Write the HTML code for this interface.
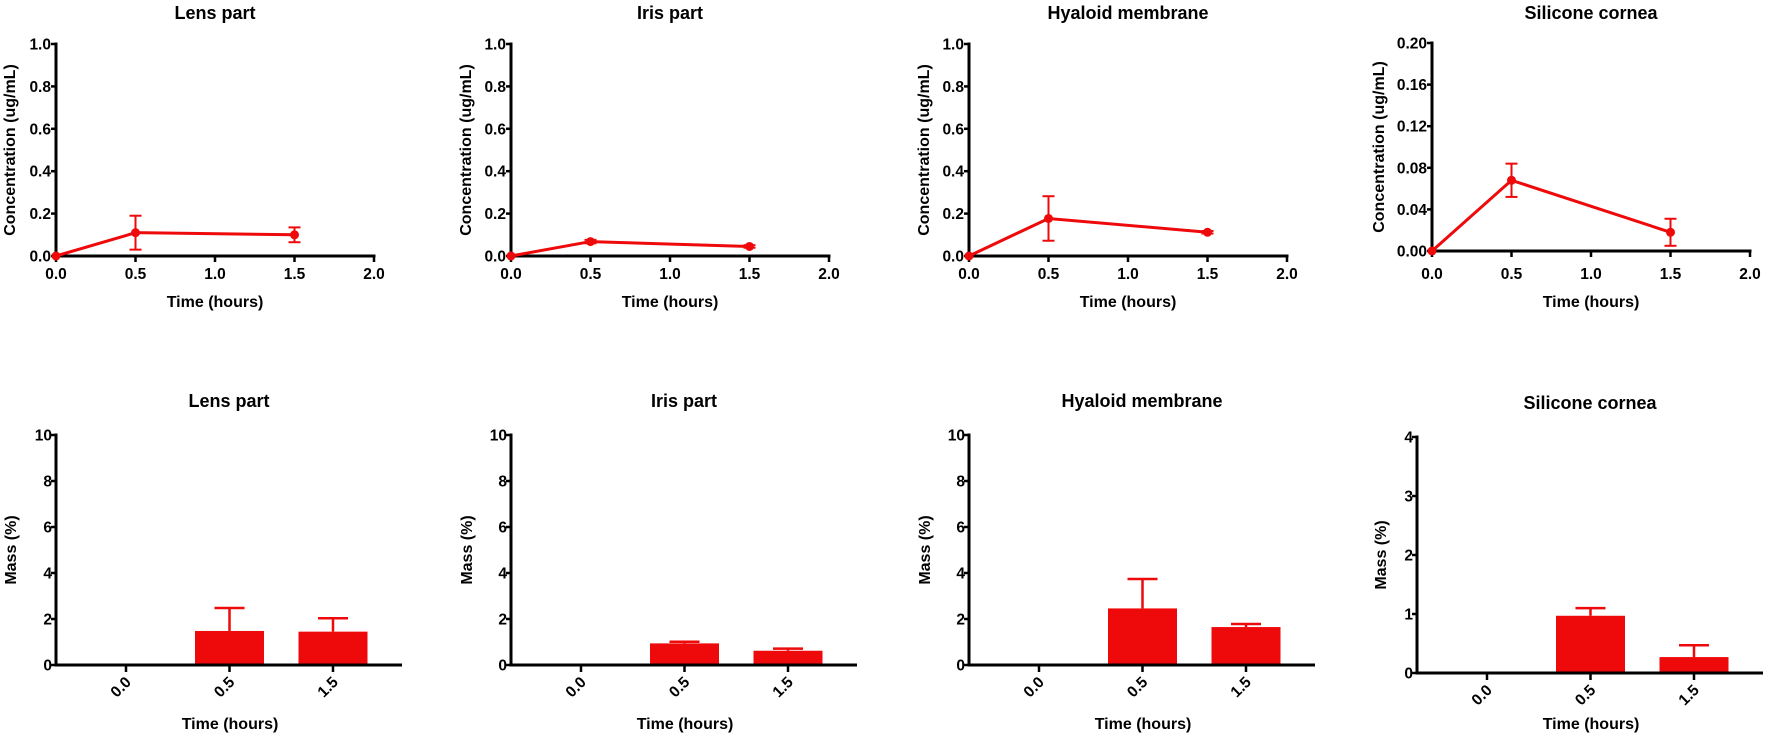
<!DOCTYPE html>
<html><head><meta charset="utf-8"><style>
html,body{margin:0;padding:0;background:#fff;}
svg{display:block;font-family:"Liberation Sans",Arial,sans-serif;font-weight:bold;}
</style></head><body>
<svg id="chart" width="1772" height="744" viewBox="0 0 1772 744" xmlns="http://www.w3.org/2000/svg"></svg>
<script>
// ---- data ----
const panelTitles = ["Lens part","Iris part","Hyaloid membrane","Silicone cornea"];
const lineTimes = [0, 0.5, 1.5];
const lensConc = [0, 0.11, 0.10];
const lensConcErr = [0, 0.08, 0.035];
const irisConc = [0, 0.068, 0.045];
const irisConcErr = [0, 0.008, 0.006];
const hyaloidConc = [0, 0.177, 0.112];
const hyaloidConcErr = [0, 0.105, 0.006];
const siliconeConc = [0, 0.068, 0.018];
const siliconeConcErr = [0, 0.016, 0.013];
const concTicks1 = ["0.0","0.2","0.4","0.6","0.8","1.0"];
const concTicks2 = ["0.00","0.04","0.08","0.12","0.16","0.20"];
const timeTicks = ["0.0","0.5","1.0","1.5","2.0"];
const barCategories = ["0.0","0.5","1.5"];
const lensMass = [0, 1.48, 1.45];
const lensMassErr = [0, 1.0, 0.58];
const irisMass = [0, 0.94, 0.62];
const irisMassErr = [0, 0.07, 0.09];
const hyaloidMass = [0, 2.46, 1.65];
const hyaloidMassErr = [0, 1.28, 0.13];
const siliconeMass = [0, 0.97, 0.27];
const siliconeMassErr = [0, 0.13, 0.2];
const massTicks1 = ["0","2","4","6","8","10"];
const massTicks2 = ["0","1","2","3","4"];

const svg = document.getElementById('chart');
const NS = 'http://www.w3.org/2000/svg';
function mk(tag, attrs, parent, text){
  const e = document.createElementNS(NS, tag);
  for (const k in attrs) e.setAttribute(k, attrs[k]);
  if (text !== undefined) e.textContent = text;
  (parent || svg).appendChild(e);
  return e;
}
const RED = '#ee0a0a';

const topPanels = [
  {ax:56, y0:256, y1:44, ticks:concTicks1, vals:lensConc, errs:lensConcErr, lab:47, key:'lens'},
  {ax:511, y0:256, y1:44, ticks:concTicks1, vals:irisConc, errs:irisConcErr, lab:46, key:'iris'},
  {ax:969, y0:256, y1:44, ticks:concTicks1, vals:hyaloidConc, errs:hyaloidConcErr, lab:46, key:'hyaloid'},
  {ax:1432, y0:251, y1:43, ticks:concTicks2, vals:siliconeConc, errs:siliconeConcErr, lab:54, key:'silicone'}
];
topPanels.forEach((p, i) => {
  const g = mk('g', {});
  
  
  const W = 318;
  const ymax = parseFloat(p.ticks[p.ticks.length-1]);
  const xs = t => p.ax + t / 2.0 * W;
  const ys = v => p.y0 - v / ymax * (p.y0 - p.y1);
  const t = mk('text', {x:p.ax + W/2, y:19, 'text-anchor':'middle', 'font-size':18}, g, panelTitles[i]);
  
  
  mk('line', {x1:p.ax, y1:p.y0+1.5, x2:p.ax, y2:p.y1-1.5, stroke:'#000','stroke-width':3}, g);
  mk('line', {x1:p.ax-1.5, y1:p.y0, x2:p.ax+W+1.5, y2:p.y0, stroke:'#000','stroke-width':3}, g);
  p.ticks.forEach(tk => {
    const y = ys(parseFloat(tk));
    mk('line', {x1:p.ax-5, y1:y, x2:p.ax, y2:y, stroke:'#000','stroke-width':2.5}, g);
    const l = mk('text', {x:p.ax-5, y:y+5.5, 'text-anchor':'end', 'font-size':15.5}, g, tk);
    
    
  });
  timeTicks.forEach(tk => {
    const x = xs(parseFloat(tk));
    mk('line', {x1:x, y1:p.y0, x2:x, y2:p.y0+6, stroke:'#000','stroke-width':2.5}, g);
    const l = mk('text', {x:x, y:279, 'text-anchor':'middle', 'font-size':15.5}, g, tk);
    
    
  });
  const xt = mk('text', {x:p.ax + W/2, y:307, 'text-anchor':'middle', 'font-size':16}, g, 'Time (hours)');
  
  
  const yc = (p.y0 + p.y1)/2;
  const yt = mk('text', {x:0, y:0, 'text-anchor':'middle', 'font-size':16, transform:`translate(${p.ax-p.lab+6},${yc}) rotate(-90)`}, g, 'Concentration (ug/mL)');
  
  
  const pts = lineTimes.map((tm, j) => xs(tm) + ',' + ys(p.vals[j])).join(' ');
  const pl = mk('polyline', {points:pts, fill:'none', stroke:RED, 'stroke-width':3}, g);
  
  
  lineTimes.forEach((tm, j) => {
    const x = xs(tm), v = p.vals[j], e = p.errs[j];
    if (e > 0) {
      const a = ys(v+e), b = ys(v-e);
      mk('line', {x1:x, y1:a, x2:x, y2:b, stroke:RED, 'stroke-width':2}, g);
      mk('line', {x1:x-6, y1:a, x2:x+6, y2:a, stroke:RED, 'stroke-width':2}, g);
      mk('line', {x1:x-6, y1:b, x2:x+6, y2:b, stroke:RED, 'stroke-width':2}, g);
    }
    const c = mk('circle', {cx:x, cy:ys(v), r:4.5, fill:RED}, g);
    
    
  });
});

const botPanels = [
  {ax:56, y0:665, y1:435, ticks:massTicks1, vals:lensMass, errs:lensMassErr, lab:46, key:'lens'},
  {ax:511, y0:665, y1:435, ticks:massTicks1, vals:irisMass, errs:irisMassErr, lab:45, key:'iris'},
  {ax:969, y0:665, y1:435, ticks:massTicks1, vals:hyaloidMass, errs:hyaloidMassErr, lab:45, key:'hyaloid'},
  {ax:1417, y0:673, y1:437, ticks:massTicks2, vals:siliconeMass, errs:siliconeMassErr, lab:37, key:'silicone'}
];
botPanels.forEach((p, i) => {
  const g = mk('g', {});
  
  
  const W = 346, step = 103.5, off = 70, bw = 69;
  const ymax = parseFloat(p.ticks[p.ticks.length-1]);
  const xc = j => p.ax + off + j*step;
  const ys = v => p.y0 - v / ymax * (p.y0 - p.y1);
  const t = mk('text', {x:p.ax + W/2, y:p.y1 - 28, 'text-anchor':'middle', 'font-size':18}, g, panelTitles[i]);
  
  
  barCategories.forEach((cat, j) => {
    const v = p.vals[j], e = p.errs[j], x = xc(j);
    if (v > 0) {
      const r = mk('rect', {x:x-bw/2, y:ys(v), width:bw, height:p.y0-ys(v), fill:RED}, g);
      
      
    }
    if (e > 0) {
      const a = ys(v+e);
      mk('line', {x1:x, y1:ys(v), x2:x, y2:a, stroke:RED, 'stroke-width':2.5}, g);
      mk('line', {x1:x-15, y1:a, x2:x+15, y2:a, stroke:RED, 'stroke-width':2.5}, g);
    }
  });
  mk('line', {x1:p.ax, y1:p.y0+1.5, x2:p.ax, y2:p.y1-1.5, stroke:'#000','stroke-width':3}, g);
  mk('line', {x1:p.ax-1.5, y1:p.y0, x2:p.ax+W, y2:p.y0, stroke:'#000','stroke-width':3}, g);
  p.ticks.forEach(tk => {
    const y = ys(parseFloat(tk));
    mk('line', {x1:p.ax-5, y1:y, x2:p.ax, y2:y, stroke:'#000','stroke-width':2.5}, g);
    const l = mk('text', {x:p.ax-4, y:y+5.5, 'text-anchor':'end', 'font-size':15.5}, g, tk);
    
    
  });
  barCategories.forEach((cat, j) => {
    const x = xc(j);
    mk('line', {x1:x, y1:p.y0, x2:x, y2:p.y0+7, stroke:'#000','stroke-width':2.5}, g);
    const l = mk('text', {x:0, y:0, 'text-anchor':'end', 'font-size':15.5, transform:`translate(${x+6},${p.y0+18}) rotate(-45)`}, g, cat);
    
    
  });
  const xt = mk('text', {x:p.ax + W/2 + 1, y:729, 'text-anchor':'middle', 'font-size':16}, g, 'Time (hours)');
  
  
  const yc = (p.y0 + p.y1)/2;
  const yt = mk('text', {x:0, y:0, 'text-anchor':'middle', 'font-size':16, transform:`translate(${p.ax-p.lab+6},${yc}) rotate(-90)`}, g, 'Mass (%)');
  
  
});
</script>
</body></html>
